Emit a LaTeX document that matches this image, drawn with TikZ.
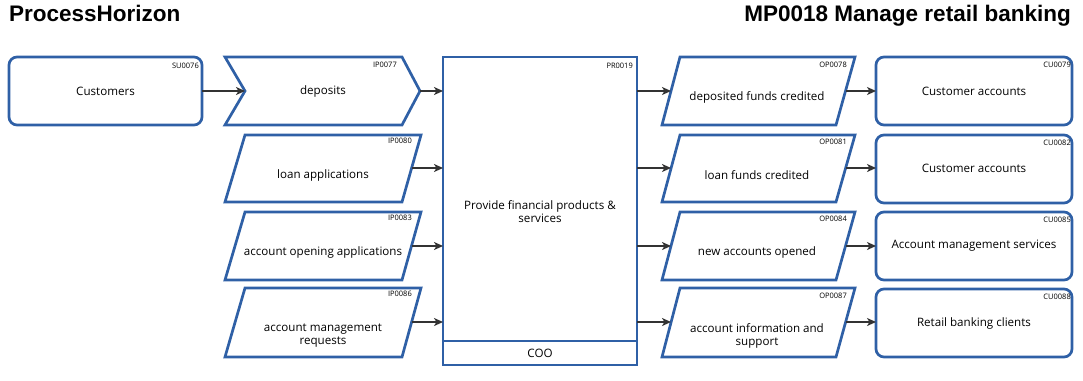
\documentclass[tikz,border=0pt]{standalone}
\usepackage{fontspec}
\setmainfont{Open Sans}
\newfontfamily\hdrfont{Liberation Sans}
\usetikzlibrary{arrows.meta}
\definecolor{pblue}{HTML}{2F60A6}
\definecolor{agray}{HTML}{333333}
\tikzset{
  blu/.style={draw=pblue, line width=2.7pt, line join=miter},
  rbox/.style={blu, rounded corners=8pt},
  arr/.style={draw=agray, line width=2pt, -{Stealth[length=9pt,width=8pt,inset=2.5pt]}},
  lbl/.style={font=\fontsize{11.6}{13}\selectfont, align=center, inner sep=0pt},
  idl/.style={font=\fontsize{7.5}{8}\selectfont, anchor=east, inner sep=0pt},
  hdr/.style={font=\hdrfont\bfseries\fontsize{22.5}{26}\selectfont, inner sep=0pt}
}
\begin{document}
\begin{tikzpicture}[x=1pt,y=-1pt]
\useasboundingbox (0,0) rectangle (1083,380);
% headers
\node[hdr, anchor=base west] (h1) at (9,21) {ProcessHorizon};
\node[hdr, anchor=base east] (h2) at (1071,21) {MP0018 Manage retail banking};

% supplier
\draw[rbox] (9,57) rectangle (202,125);
\node[lbl] (su) at (105.5,91) {Customers};
\node[idl] (suid) at (199,66) {SU0076};
\coordinate (suR) at (202,91);

% input 1 chevron
\draw[blu] (225,57) -- (402,57) -- (420,91) -- (402,125) -- (225,125) -- (245,91) -- cycle;
\node[lbl] (ip1) at (323,91) {deposits};
\node[idl] (ip1id) at (397,65) {IP0077};
\coordinate (ip1L) at (245,91);
\coordinate (ip1R) at (420,91);

% input parallelograms
\foreach \t/\b/\m/\n in {135/202/168/2, 212/280/246/3, 288/357/322/4}{
  \draw[blu] (225,\b) -- (245,\t) -- (421,\t) -- (402,\b) -- cycle;
  \coordinate (ip\n R) at (411.5,\m);
}
\node[lbl] (ip2) at (323,175) {loan applications};
\node[idl] (ip2id) at (412,141) {IP0080};
\node[lbl] (ip3) at (323,252) {account opening applications};
\node[idl] (ip3id) at (412,218) {IP0083};
\node[lbl] (ip4) at (323,335.5) {account management\\requests};
\node[idl] (ip4id) at (412,294) {IP0086};

% process
\draw[pblue, line width=2.2pt] (443,57) rectangle (637,365);
\draw[pblue, line width=2.2pt] (443,341) -- (637,341);
\node[lbl] (pr) at (540,211.5) {Provide financial products \&\\services};
\node[idl] (prid) at (633,66) {PR0019};
\node[lbl] (coo) at (540,353) {COO};
\foreach \m/\n in {91/1,168/2,246/3,322/4}{
  \coordinate (prL\n) at (443,\m);
  \coordinate (prR\n) at (637,\m);
}

% output parallelograms
\foreach \t/\b/\m/\n in {57/125/91/1, 135/202/168/2, 212/280/246/3, 288/357/322/4}{
  \draw[blu] (662,\b) -- (680,\t) -- (855,\t) -- (836,\b) -- cycle;
  \coordinate (op\n L) at (671,\m);
  \coordinate (op\n R) at (845.5,\m);
}
\node[lbl] (op1) at (757,97) {deposited funds credited};
\node[idl] (op1id) at (847,65) {OP0078};
\node[lbl] (op2) at (757,175) {loan funds credited};
\node[idl] (op2id) at (847,142) {OP0081};
\node[lbl] (op3) at (757,252) {new accounts opened};
\node[idl] (op3id) at (847,219) {OP0084};
\node[lbl] (op4) at (757,335.5) {account information and\\support};
\node[idl] (op4id) at (847,296) {OP0087};

% customers
\foreach \t/\b/\m/\n in {57/125/91/1, 135/203/168/2, 212/280/246/3, 289/357/322/4}{
  \draw[rbox] (876,\t) rectangle (1072,\b);
  \coordinate (cu\n L) at (876,\m);
}
\node[lbl] (cu1) at (974,91) {Customer accounts};
\node[idl] (cu1id) at (1071,65) {CU0079};
\node[lbl] (cu2) at (974,168) {Customer accounts};
\node[idl] (cu2id) at (1071,143) {CU0082};
\node[lbl] (cu3) at (974,246) {Account management services};
\node[idl] (cu3id) at (1071,220) {CU0085};
\node[lbl] (cu4) at (974,323) {Retail banking clients};
\node[idl] (cu4id) at (1071,297) {CU0088};

% connectors
\draw[arr] (suR) -- (ip1L);
\draw[arr] (ip1R) -- (prL1);
\draw[arr] (ip2R) -- (prL2);
\draw[arr] (ip3R) -- (prL3);
\draw[arr] (ip4R) -- (prL4);
\draw[arr] (prR1) -- (op1L);
\draw[arr] (prR2) -- (op2L);
\draw[arr] (prR3) -- (op3L);
\draw[arr] (prR4) -- (op4L);
\draw[arr] (op1R) -- (cu1L);
\draw[arr] (op2R) -- (cu2L);
\draw[arr] (op3R) -- (cu3L);
\draw[arr] (op4R) -- (cu4L);
\end{tikzpicture}
\end{document}
